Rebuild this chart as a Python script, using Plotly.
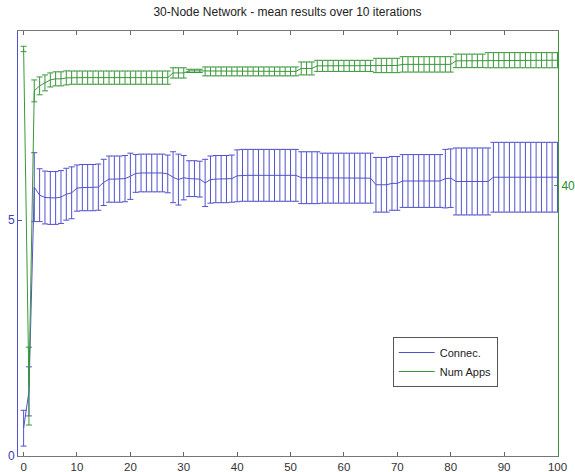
import plotly.graph_objects as go

# ---- data ----
iterations = list(range(0, 101))

conn_mean = [
    0.59, 1.37, 5.70, 5.53, 5.48, 5.47, 5.47, 5.49, 5.55, 5.58,   # 0-9
    5.68, 5.69, 5.69, 5.69, 5.70, 5.80, 5.87, 5.87, 5.87, 5.88,   # 10-19
    5.93, 5.99, 6.00, 6.00, 6.00, 6.00, 6.00, 5.98, 5.91, 5.86,   # 20-29
    5.90, 5.88, 5.88, 5.87, 5.79, 5.86, 5.87, 5.87, 5.87, 5.88,   # 30-39
    5.94, 5.95, 5.95, 5.95, 5.95, 5.95, 5.95, 5.95, 5.95, 5.95,   # 40-49
    5.95, 5.95, 5.90, 5.90, 5.90, 5.90, 5.89, 5.89, 5.89, 5.89,   # 50-59
    5.89, 5.89, 5.89, 5.89, 5.89, 5.89, 5.75, 5.75, 5.75, 5.78,   # 60-69
    5.78, 5.83, 5.83, 5.83, 5.83, 5.83, 5.83, 5.83, 5.83, 5.88,   # 70-79
    5.89, 5.82, 5.82, 5.82, 5.82, 5.82, 5.82, 5.82, 5.91, 5.91,   # 80-89
    5.91, 5.91, 5.91, 5.91, 5.91, 5.91, 5.91, 5.91, 5.91, 5.91,   # 90-99
    5.91,                                                          # 100
]

conn_err = [
    0.38, 0.52, 0.73, 0.56, 0.56, 0.56, 0.56, 0.56, 0.55, 0.55,
    0.49, 0.49, 0.49, 0.49, 0.49, 0.49, 0.49, 0.49, 0.49, 0.49,
    0.49, 0.40, 0.40, 0.40, 0.40, 0.40, 0.40, 0.40, 0.54, 0.54,
    0.47, 0.38, 0.38, 0.38, 0.50, 0.50, 0.50, 0.50, 0.50, 0.50,
    0.55, 0.55, 0.55, 0.55, 0.55, 0.55, 0.55, 0.55, 0.55, 0.55,
    0.55, 0.55, 0.55, 0.55, 0.55, 0.55, 0.53, 0.53, 0.53, 0.53,
    0.53, 0.53, 0.53, 0.53, 0.53, 0.53, 0.58, 0.58, 0.58, 0.57,
    0.57, 0.56, 0.56, 0.56, 0.56, 0.56, 0.56, 0.56, 0.56, 0.62,
    0.62, 0.71, 0.71, 0.71, 0.71, 0.71, 0.71, 0.71, 0.74, 0.74,
    0.74, 0.74, 0.74, 0.74, 0.74, 0.74, 0.74, 0.74, 0.74, 0.74,
    0.74,
]

apps_mean = [
    50.11, 25.17, 47.01, 47.38, 47.60, 47.82, 47.90, 47.90, 47.97, 47.99,
    47.99, 47.99, 47.99, 47.99, 47.99, 47.99, 47.99, 47.99, 47.99, 47.99,
    47.99, 47.99, 47.99, 47.99, 47.99, 47.99, 47.99, 47.99, 48.34, 48.34,
    48.34, 48.49, 48.49, 48.49, 48.45, 48.45, 48.45, 48.45, 48.45, 48.45,
    48.45, 48.45, 48.45, 48.45, 48.45, 48.45, 48.45, 48.45, 48.45, 48.45,
    48.45, 48.45, 48.67, 48.67, 48.67, 48.86, 48.86, 48.86, 48.86, 48.86,
    48.86, 48.86, 48.86, 48.86, 48.86, 48.86, 48.89, 48.89, 48.89, 48.89,
    48.89, 48.97, 48.97, 48.97, 48.97, 48.97, 48.97, 48.97, 48.97, 48.97,
    48.97, 49.23, 49.23, 49.23, 49.23, 49.23, 49.23, 49.28, 49.28, 49.28,
    49.28, 49.28, 49.28, 49.28, 49.28, 49.28, 49.28, 49.28, 49.28, 49.28,
    49.28,
]

apps_err = [
    0.20, 2.88, 0.81, 0.66, 0.59, 0.52, 0.52, 0.52, 0.52, 0.49,
    0.49, 0.49, 0.49, 0.49, 0.49, 0.49, 0.49, 0.49, 0.49, 0.49,
    0.49, 0.49, 0.49, 0.49, 0.49, 0.49, 0.49, 0.49, 0.38, 0.38,
    0.38, 0.12, 0.12, 0.12, 0.33, 0.33, 0.33, 0.33, 0.33, 0.33,
    0.33, 0.33, 0.33, 0.33, 0.33, 0.33, 0.33, 0.33, 0.33, 0.33,
    0.33, 0.33, 0.48, 0.48, 0.48, 0.41, 0.41, 0.41, 0.41, 0.41,
    0.41, 0.41, 0.41, 0.41, 0.41, 0.41, 0.53, 0.53, 0.53, 0.53,
    0.53, 0.57, 0.57, 0.57, 0.57, 0.57, 0.57, 0.57, 0.57, 0.57,
    0.57, 0.50, 0.50, 0.50, 0.50, 0.50, 0.50, 0.56, 0.56, 0.56,
    0.56, 0.56, 0.56, 0.56, 0.56, 0.56, 0.56, 0.56, 0.56, 0.56,
    0.56,
]

x_ticks = [0, 10, 20, 30, 40, 50, 60, 70, 80, 90, 100]
left_ticks = [0, 5]
right_ticks = [40]

title_text = "30-Node Network - mean results over 10 iterations"

BLUE = "#5252cc"
GREEN = "#3a963a"
FONT = "Liberation Sans, Arial, sans-serif"

fig = go.Figure()

fig.add_trace(go.Scatter(
    x=iterations, y=conn_mean, name="Connec.", mode="lines",
    line=dict(color=BLUE, width=1),
    error_y=dict(type="data", array=conn_err, visible=True,
                 color=BLUE, thickness=1, width=3),
    yaxis="y",
))

fig.add_trace(go.Scatter(
    x=iterations, y=apps_mean, name="Num Apps", mode="lines",
    line=dict(color=GREEN, width=1),
    error_y=dict(type="data", array=apps_err, visible=True,
                 color=GREEN, thickness=1, width=3),
    yaxis="y2",
))

fig.update_layout(
    width=575, height=472,
    margin=dict(l=18, r=17, t=31, b=16, autoexpand=False),
    paper_bgcolor="white", plot_bgcolor="white",
    font=dict(family=FONT, size=11, color="#222"),
    title=dict(text=title_text, x=0.5, xanchor="center",
               y=1 - 12 / 472, yanchor="middle", yref="container",
               font=dict(size=12, color="#222", family=FONT)),
    showlegend=True,
    legend=dict(x=0.694, y=0.28, xanchor="left", yanchor="top",
                bgcolor="white", bordercolor="#555", borderwidth=1,
                font=dict(size=11, color="#222", family=FONT),
                tracegroupgap=0, itemwidth=36),
    xaxis=dict(range=[-1.05, 100.1], tickvals=x_ticks, ticks="inside",
               ticklen=4, tickcolor="#666", showline=True, linecolor="#777",
               linewidth=1, mirror="ticks", showgrid=False, zeroline=False,
               automargin=False,
               tickfont=dict(size=11.5, color="#333")),
    yaxis=dict(range=[0, 9.01], tickvals=left_ticks, ticks="inside",
               ticklen=4, tickcolor=BLUE, showline=True, linecolor=BLUE,
               linewidth=1, showgrid=False, zeroline=False,
               automargin=False,
               tickfont=dict(size=12, color="#3c3cbb")),
    yaxis2=dict(range=[20, 51.44], tickvals=right_ticks, ticks="inside",
                ticklen=4, tickcolor=GREEN, showline=True, linecolor=GREEN,
                linewidth=1, showgrid=False, zeroline=False,
                overlaying="y", side="right", automargin=False,
                tickfont=dict(size=12, color="#2e8b2e")),
)

fig.write_html(
    "out.html",
    config={"displayModeBar": False},
    post_script="document.body.style.margin='0';document.body.style.padding='0';",
)
